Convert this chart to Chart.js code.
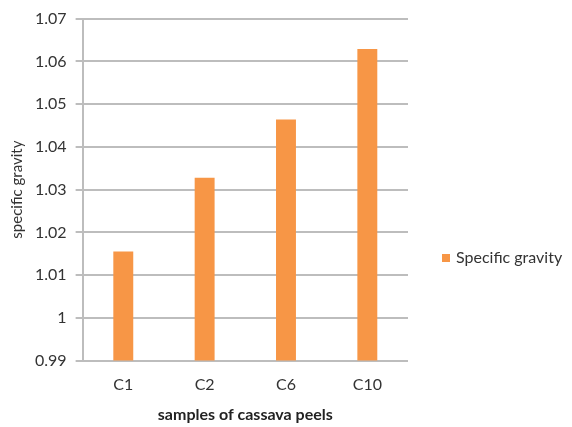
<!DOCTYPE html>
<html>
<head>
<meta charset="utf-8">
<script src="https://cdn.jsdelivr.net/npm/chart.js@4.4.0/dist/chart.umd.min.js"></script>
<style>
  html, body { margin: 0; padding: 0; background: #fff; }
  #wrap { width: 572px; height: 427px; }
</style>
</head>
<body>
<div id="wrap"><canvas id="chart" width="572" height="427"></canvas></div>
<script>
const categories = ['C1', 'C2', 'C6', 'C10'];
const specificGravity = [1.0155, 1.0328, 1.0464, 1.0629];
const seriesLabel = 'Specific gravity';
const yMin = 0.99;
const yMax = 1.07;
const yStep = 0.01;

const orange = '#F79646';
const gridColor = '#BDBDBD';
const textColor = '#333333';
const fontFamily = 'Lato, "Open Sans", sans-serif';

// legend drawn by hand, to the right of the plot
const sideLegend = {
  id: 'sideLegend',
  afterDraw(chart) {
    const ctx = chart.ctx;
    const ds = chart.data.datasets[0];
    const x = chart.chartArea.right + 34;
    const y = 258;
    ctx.save();
    ctx.fillStyle = ds.backgroundColor;
    ctx.fillRect(x, y - 4, 8, 8);
    ctx.fillStyle = textColor;
    ctx.font = '16px ' + fontFamily;
    ctx.textBaseline = 'middle';
    ctx.fillText(ds.label, x + 14, y);
    ctx.restore();
  }
};

new Chart(document.querySelector('#chart'), {
  type: 'bar',
  data: {
    labels: categories,
    datasets: [{
      label: seriesLabel,
      data: specificGravity,
      backgroundColor: orange,
      categoryPercentage: 1,
      barPercentage: 0.245
    }]
  },
  options: {
    responsive: false,
    animation: false,
    layout: { padding: { left: 4, right: 164, top: 8, bottom: 3 } },
    plugins: {
      legend: { display: false },
      tooltip: { enabled: false }
    },
    scales: {
      x: {
        grid: { display: false },
        border: { display: false },
        ticks: { color: textColor, font: { family: fontFamily, size: 16 }, padding: 7 },
        title: {
          display: true,
          text: 'samples of cassava peels',
          color: '#222',
          font: { family: fontFamily, size: 16, weight: 'bold' },
          padding: { top: 3, bottom: 0 }
        }
      },
      y: {
        min: yMin,
        max: yMax,
        border: { display: true, color: gridColor, width: 2 },
        grid: { color: gridColor, lineWidth: 2, tickLength: 7 },
        ticks: {
          stepSize: yStep,
          color: textColor,
          font: { family: fontFamily, size: 16 },
          padding: 9,
          callback: (v) => String(parseFloat(Number(v).toFixed(2)))
        },
        title: {
          display: true,
          text: 'specific gravity',
          color: textColor,
          font: { family: fontFamily, size: 15 },
          padding: { bottom: 0 }
        }
      }
    }
  },
  plugins: [sideLegend]
});
</script>
</body>
</html>
